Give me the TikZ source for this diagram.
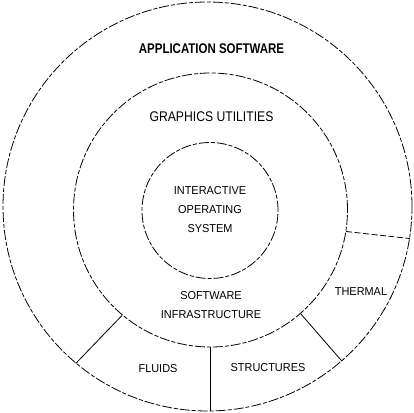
\documentclass[tikz,border=0pt]{standalone}
\usepackage{fontspec}
\setmainfont{Liberation Sans}
\begin{document}
\begin{tikzpicture}[x=1pt,y=-1pt,
  ring/.style={circle,draw=black,line width=0.8pt,dash pattern=on 10pt off 2pt on 4pt off 2pt,inner sep=0pt},
  divider/.style={draw=black,line width=0.8pt},
  dashdiv/.style={divider,dash pattern=on 6pt off 2.5pt},
  title/.style={font=\fontsize{14}{16}\selectfont\bfseries,inner sep=0pt},
  sub/.style={font=\fontsize{14}{16}\selectfont,inner sep=0pt},
  lbl/.style={font=\fontsize{11.5}{19}\selectfont,align=center,inner sep=0pt}]
\useasboundingbox (0,0) rectangle (414,412);
\node[ring,minimum size=409pt] (outer) at (207.5,206.5) {};
\node[ring,minimum size=274pt] (mid) at (210.5,210) {};
\node[ring,minimum size=136pt] (inner) at (210,210.5) {};
\coordinate (bot) at (mid.270 |- outer.south);
\draw[divider] (mid.230) -- (outer.230);
\draw[divider] (mid.270) -- (bot);
\draw[divider] (mid.311) -- (outer.311);
\draw[dashdiv] (mid.351) -- (outer.351);
\node[title] (app) at (211.5,48.5) {\scalebox{0.82}[1]{APPLICATION SOFTWARE}};
\node[sub] (gfx) at (211.5,116.5) {\scalebox{0.87}[1]{GRAPHICS UTILITIES}};
\node[lbl] (ios) at (210,210) {\scalebox{0.95}[1]{INTERACTIVE}\\\scalebox{0.95}[1]{OPERATING}\\\scalebox{0.95}[1]{SYSTEM}};
\node[lbl] (sinf) at (211,305.5) {\scalebox{0.95}[1]{SOFTWARE}\\\scalebox{0.95}[1]{INFRASTRUCTURE}};
\node[lbl] (therm) at (361,292) {\scalebox{0.95}[1]{THERMAL}};
\node[lbl] (fluids) at (158,369) {\scalebox{0.95}[1]{FLUIDS}};
\node[lbl] (struct) at (268,368) {\scalebox{0.95}[1]{STRUCTURES}};
\end{tikzpicture}
\end{document}
